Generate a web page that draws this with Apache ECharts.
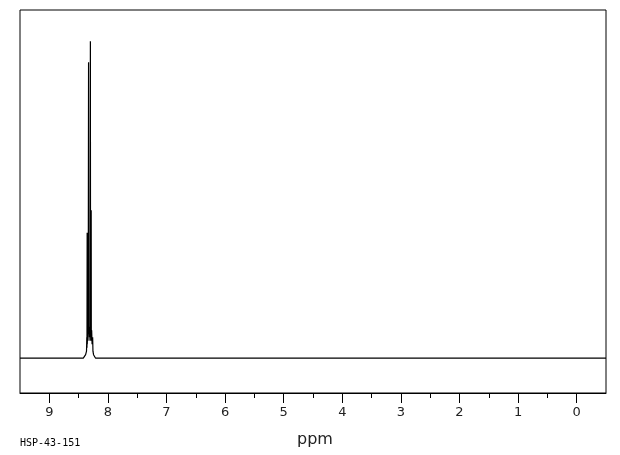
<!DOCTYPE html>
<html>
<head>
<meta charset="utf-8">
<script src="https://cdn.jsdelivr.net/npm/echarts@6/dist/echarts.min.js"></script>
<style>
html,body{margin:0;padding:0;background:#fff;}
#chart{width:620px;height:455px;}
</style>
</head>
<body>
<div id="chart"></div>
<script>
// Spectrum trace (chemical shift in ppm, relative intensity)
const shiftPpm = [9.5, 8.42, 8.40, 8.38, 8.365, 8.36, 8.357, 8.354, 8.352, 8.345, 8.34, 8.336, 8.33, 8.327, 8.32, 8.315, 8.31, 8.305, 8.299, 8.296, 8.29, 8.285, 8.283, 8.277, 8.27, 8.26, 8.255, 8.245, 8.23, 8.21, -0.5];
const intensity = [0, 0, 0.5, 1, 2, 6, 3, 36, 4, 8, 5, 9, 85, 7, 9, 6, 8, 5, 91, 6, 9, 42.5, 5, 8, 4, 6, 2, 1, 0.5, 0, 0];
const majorTicks = [0, 1, 2, 3, 4, 5, 6, 7, 8, 9];
const minorTicks = [0.5, 1.5, 2.5, 3.5, 4.5, 5.5, 6.5, 7.5, 8.5];
const axisTitle = 'ppm';
const sampleId = 'HSP-43-151';

const points = shiftPpm.map((p, i) => [p, intensity[i]]);

const chart = echarts.init(document.getElementById('chart'), null, {renderer: 'canvas'});
chart.setOption({
  animation: false,
  backgroundColor: '#ffffff',
  grid: {
    left: 20, top: 10, right: 14, bottom: 62,
    show: true, borderColor: '#000', borderWidth: 1,
    containLabel: false, outerBoundsMode: 'none'
  },
  xAxis: [
    {
      type: 'value', min: -0.5, max: 9.5, inverse: true, position: 'bottom',
      axisLine: {show: true, onZero: false, lineStyle: {color: '#000', width: 1}},
      axisTick: {show: true, length: 10, customValues: majorTicks, lineStyle: {color: '#000', width: 1}},
      axisLabel: {show: true, customValues: majorTicks, margin: 13, color: '#222', fontSize: 13, fontFamily: 'DejaVu Sans'},
      splitLine: {show: false}
    },
    {
      type: 'value', min: -0.5, max: 9.5, inverse: true, position: 'bottom',
      axisLine: {show: false, onZero: false},
      axisTick: {show: true, length: 5, customValues: minorTicks, lineStyle: {color: '#000', width: 1}},
      axisLabel: {show: false},
      splitLine: {show: false}
    }
  ],
  yAxis: {type: 'value', min: -10, max: 100, show: false, splitLine: {show: false}},
  series: [{
    type: 'line', xAxisIndex: 0, data: points, showSymbol: false, symbol: 'none',
    lineStyle: {color: '#000', width: 1.2}, silent: true
  }],
  graphic: [
    {type: 'text', left: 297, top: 432, style: {text: axisTitle, fill: '#222', font: '16px "DejaVu Sans"'}},
    {type: 'text', left: 20, top: 438, style: {text: sampleId, fill: '#000', font: '10px "DejaVu Sans Mono"'}}
  ]
});
</script>
</body>
</html>
